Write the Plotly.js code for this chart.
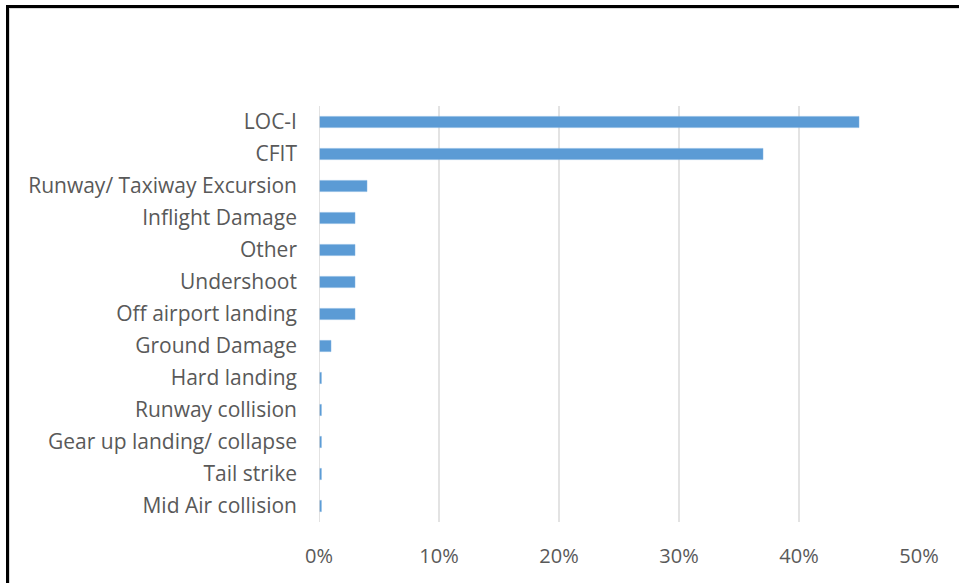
<!DOCTYPE html>
<html>
<head>
<meta charset="utf-8">
<script src="https://cdn.plot.ly/plotly-3.0.1.min.js"></script>
<style>
html,body{margin:0;padding:0;background:#fff;}
#wrap{position:relative;width:959px;height:583px;overflow:hidden;}
#chart{position:absolute;left:0;top:0;width:959px;height:583px;}
#frame{position:absolute;left:6px;top:5px;width:1000px;height:700px;border:3px solid #000;box-sizing:border-box;pointer-events:none;}
#inner{position:absolute;left:9px;top:8px;width:1000px;height:700px;border:1px solid #d9d9d9;box-sizing:border-box;pointer-events:none;}
</style>
</head>
<body>
<div id="wrap">
<div id="chart"></div>
<div id="inner"></div>
<div id="frame"></div>
</div>
<script>
const categories = ["LOC-I","CFIT","Runway/ Taxiway Excursion","Inflight Damage","Other","Undershoot","Off airport landing","Ground Damage","Hard landing","Runway collision","Gear up landing/ collapse","Tail strike","Mid Air collision"];
const shares = [0.45,0.37,0.04,0.03,0.03,0.03,0.03,0.01,0.002,0.002,0.002,0.002,0.002];
const tickVals = [0,0.1,0.2,0.3,0.4,0.5];
const tickText = ["0%","10%","20%","30%","40%","50%"];

const trace = {
  type:'bar', orientation:'h',
  x: shares, y: categories,
  marker:{color:'#5B9BD5', line:{color:'#7FB2E0', width:0.5}},
  hoverinfo:'x+y'
};
const layout = {
  width:959, height:583,
  margin:{l:319, r:39.5, t:106, b:61, pad:0},
  paper_bgcolor:'#fff', plot_bgcolor:'#fff',
  bargap:0.65,
  showlegend:false,
  font:{family:'"Open Sans", Lato, sans-serif', color:'#595959', size:18},
  xaxis:{range:[0,0.5], tickvals:tickVals, ticktext:tickText, showgrid:true, gridcolor:'#E3E3E3', gridwidth:1.5,
         zeroline:false, showline:false, ticks:'', ticklabelstandoff:20, tickfont:{size:20, color:'#595959'}, fixedrange:true},
  yaxis:{autorange:'reversed', type:'category', showgrid:false, zeroline:false, showline:false, ticks:'',
         ticklabelstandoff:21, tickfont:{size:21, color:'#595959'}, fixedrange:true},
  shapes:[{type:'line', xref:'x', yref:'paper', x0:0, x1:0, y0:0, y1:1, line:{color:'#D9D9D9', width:1.5}}]
};
Plotly.newPlot('chart',[trace],layout,{displayModeBar:false, staticPlot:true});
</script>
</body>
</html>
